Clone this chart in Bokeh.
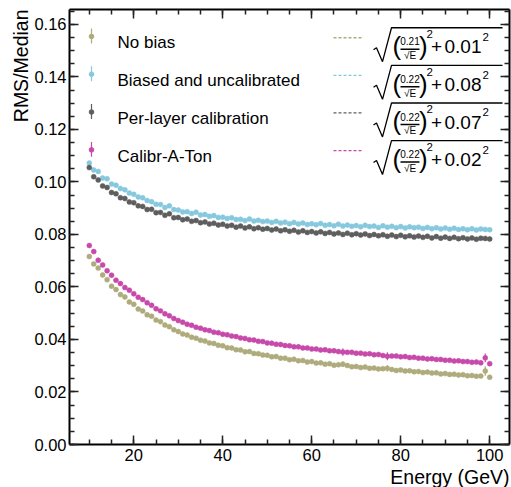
from bokeh.plotting import figure
from bokeh.models import (Range1d, LinearAxis, SingleIntervalTicker, Label, Title,
                          NumeralTickFormatter, CustomJSTickFormatter, ColumnDataSource)
from bokeh.embed import file_html
from bokeh.resources import INLINE

# ---------------- data ----------------
energy = list(range(10, 101))

no_bias = [
    0.0716, 0.0688, 0.0672, 0.0646, 0.0628, 0.0603, 0.0590, 0.0571, 0.0562, 0.0543,
    0.0534, 0.0516, 0.0509, 0.0494, 0.0489, 0.0474, 0.0468, 0.0455, 0.0449, 0.0437,
    0.0430, 0.0421, 0.0417, 0.0409, 0.0405, 0.0397, 0.0394, 0.0387, 0.0385, 0.0378,
    0.0376, 0.0369, 0.0368, 0.0361, 0.0360, 0.0353, 0.0354, 0.0347, 0.0346, 0.0341,
    0.0340, 0.0334, 0.0335, 0.0329, 0.0329, 0.0323, 0.0325, 0.0319, 0.0320, 0.0314,
    0.0316, 0.0310, 0.0311, 0.0306, 0.0308, 0.0302, 0.0304, 0.0306, 0.0301, 0.0296,
    0.0297, 0.0293, 0.0295, 0.0290, 0.0291, 0.0288, 0.0289, 0.0290, 0.0286, 0.0282,
    0.0284, 0.0280, 0.0281, 0.0277, 0.0278, 0.0274, 0.0276, 0.0272, 0.0273, 0.0269,
    0.0270, 0.0267, 0.0268, 0.0265, 0.0266, 0.0262, 0.0263, 0.0260, 0.0261, 0.0280,
    0.0256]

biased = [
    0.1072, 0.1046, 0.1040, 0.1015, 0.1012, 0.0992, 0.0988, 0.0975, 0.0970, 0.0958,
    0.0953, 0.0943, 0.0940, 0.0929, 0.0925, 0.0915, 0.0914, 0.0903, 0.0909, 0.0895,
    0.0893, 0.0886, 0.0887, 0.0880, 0.0885, 0.0874, 0.0876, 0.0869, 0.0872, 0.0865,
    0.0866, 0.0861, 0.0864, 0.0857, 0.0858, 0.0853, 0.0859, 0.0851, 0.0854, 0.0849,
    0.0851, 0.0846, 0.0850, 0.0844, 0.0847, 0.0841, 0.0846, 0.0840, 0.0844, 0.0838,
    0.0841, 0.0837, 0.0842, 0.0835, 0.0838, 0.0833, 0.0839, 0.0832, 0.0836, 0.0831,
    0.0834, 0.0829, 0.0835, 0.0830, 0.0832, 0.0827, 0.0833, 0.0828, 0.0831, 0.0826,
    0.0830, 0.0825, 0.0829, 0.0826, 0.0828, 0.0823, 0.0827, 0.0822, 0.0826, 0.0821,
    0.0825, 0.0820, 0.0824, 0.0819, 0.0822, 0.0818, 0.0822, 0.0817, 0.0821, 0.0819,
    0.0818]

per_layer = [
    0.1055, 0.1020, 0.1008, 0.0985, 0.0979, 0.0960, 0.0955, 0.0940, 0.0937, 0.0924,
    0.0921, 0.0909, 0.0907, 0.0895, 0.0896, 0.0883, 0.0884, 0.0873, 0.0879, 0.0864,
    0.0865, 0.0856, 0.0859, 0.0850, 0.0853, 0.0845, 0.0848, 0.0840, 0.0843, 0.0836,
    0.0839, 0.0832, 0.0835, 0.0828, 0.0832, 0.0825, 0.0829, 0.0822, 0.0826, 0.0820,
    0.0823, 0.0817, 0.0821, 0.0814, 0.0818, 0.0812, 0.0816, 0.0809, 0.0814, 0.0808,
    0.0811, 0.0806, 0.0810, 0.0804, 0.0808, 0.0802, 0.0806, 0.0800, 0.0805, 0.0799,
    0.0803, 0.0798, 0.0802, 0.0796, 0.0800, 0.0795, 0.0799, 0.0793, 0.0798, 0.0792,
    0.0797, 0.0791, 0.0795, 0.0790, 0.0794, 0.0789, 0.0793, 0.0787, 0.0792, 0.0786,
    0.0790, 0.0785, 0.0789, 0.0784, 0.0788, 0.0783, 0.0787, 0.0782, 0.0786, 0.0785,
    0.0783]

calibraton = [
    0.0758, 0.0735, 0.0702, 0.0684, 0.0662, 0.0645, 0.0626, 0.0613, 0.0598, 0.0588,
    0.0574, 0.0561, 0.0552, 0.0540, 0.0530, 0.0517, 0.0509, 0.0498, 0.0490, 0.0480,
    0.0472, 0.0466, 0.0458, 0.0454, 0.0447, 0.0443, 0.0437, 0.0434, 0.0428, 0.0426,
    0.0420, 0.0418, 0.0413, 0.0411, 0.0406, 0.0404, 0.0399, 0.0398, 0.0393, 0.0392,
    0.0387, 0.0386, 0.0382, 0.0381, 0.0377, 0.0376, 0.0372, 0.0372, 0.0368, 0.0368,
    0.0364, 0.0364, 0.0360, 0.0361, 0.0357, 0.0357, 0.0354, 0.0352, 0.0351, 0.0351,
    0.0348, 0.0348, 0.0345, 0.0346, 0.0342, 0.0343, 0.0339, 0.0336, 0.0337, 0.0337,
    0.0334, 0.0335, 0.0331, 0.0332, 0.0329, 0.0329, 0.0326, 0.0327, 0.0324, 0.0324,
    0.0321, 0.0321, 0.0318, 0.0319, 0.0316, 0.0316, 0.0313, 0.0314, 0.0311, 0.0330,
    0.0308]

series_names = ["No bias", "Biased and uncalibrated", "Per-layer calibration", "Calibr-A-Ton"]
series_values = [no_bias, biased, per_layer, calibraton]
series_colors = ["#aeab7d", "#86c8de", "#5e5e5e", "#c74aab"]

point_error = 0.0004
wide_errors = [{67: 0.0011, 77: 0.0012, 99: 0.0018}, {}, {}, {67: 0.0014, 77: 0.0015, 99: 0.0017}]

fit_stochastic = ["0.21", "0.22", "0.22", "0.22"]
fit_constant = ["0.01", "0.08", "0.07", "0.02"]

x_title = "Energy (GeV)"
y_title = "RMS/Median"
x_ticks_interval = 20
y_ticks_interval = 0.02

# ---------------- layout ----------------
W, H = 511, 487
FL, FR, FT, FB = 69, 509, 9, 445
X0, X1 = 5.55, 104.45
Y0, Y1 = 0.0, 0.1657
FONT = "Liberation Sans"


def dx(px):
    return X0 + (px - FL) * (X1 - X0) / (FR - FL)


def dy(py):
    return Y1 - (py - FT) * (Y1 - Y0) / (FB - FT)


def sx(px):
    return px - FL


def sy(py):
    return FB - py


p = figure(width=W, height=H, x_range=Range1d(X0, X1), y_range=Range1d(Y0, Y1),
           output_backend="svg", toolbar_location=None, title_location=None,
           min_border_left=FL, min_border_right=W - FR, min_border_top=FT,
           min_border_bottom=H - FB)
p.xgrid.visible = False
p.ygrid.visible = False
p.outline_line_color = None
p.background_fill_color = "white"
p.border_fill_color = "white"


def style_axis(ax):
    ax.axis_line_width = 2
    ax.axis_line_color = "black"
    ax.major_tick_in = 9
    ax.major_tick_out = 0
    ax.minor_tick_in = 5
    ax.minor_tick_out = 0
    ax.major_tick_line_width = 1.5
    ax.minor_tick_line_width = 1.5
    ax.major_tick_line_color = "#222222"
    ax.minor_tick_line_color = "#222222"
    ax.major_label_text_font = FONT
    ax.major_label_text_font_size = "16.5px"
    ax.major_label_text_color = "black"


xa = p.xaxis[0]
ya = p.yaxis[0]
xa.ticker = SingleIntervalTicker(interval=x_ticks_interval, num_minor_ticks=4)
ya.ticker = SingleIntervalTicker(interval=y_ticks_interval, num_minor_ticks=4)
ya.formatter = NumeralTickFormatter(format="0.00")
style_axis(xa)
style_axis(ya)
xa.major_label_standoff = 4
ya.major_label_standoff = 3

# axis titles as side-panel titles so that they can be end-aligned
p.add_layout(Title(text=x_title, align="right", text_font=FONT, text_font_size="19.5px",
                   text_font_style="normal", text_color="black", standoff=0, offset=0),
             "below")
p.add_layout(Title(text=y_title, align="right", text_font=FONT, text_font_size="19.5px",
                   text_font_style="normal", text_color="black", standoff=0, offset=0),
             "left")

top = LinearAxis(ticker=SingleIntervalTicker(interval=x_ticks_interval, num_minor_ticks=4),
                 formatter=CustomJSTickFormatter(code="return ''"))
right = LinearAxis(ticker=SingleIntervalTicker(interval=y_ticks_interval, num_minor_ticks=4),
                   formatter=CustomJSTickFormatter(code="return ''"))
for ax in (top, right):
    style_axis(ax)
    ax.major_label_standoff = 0
    ax.major_label_text_font_size = "1px"
p.add_layout(top, "above")
p.add_layout(right, "right")

# ---------------- data points ----------------
for vals, col, werr in zip(series_values, series_colors, wide_errors):
    errs = [werr.get(e, point_error) for e in energy]
    src = ColumnDataSource(dict(x=energy, y=vals,
                                lo=[v - e for v, e in zip(vals, errs)],
                                hi=[v + e for v, e in zip(vals, errs)]))
    p.segment(x0="x", y0="lo", x1="x", y1="hi", source=src, line_color=col, line_width=1.2)
    p.scatter(x="x", y="y", source=src, marker="circle", size=5,
              fill_color=col, line_color=col, line_width=0.5)

# ---------------- left legend ----------------
for i, (name, col) in enumerate(zip(series_names, series_colors)):
    ty = 43 + 37.9 * i
    my = ty - 7
    p.segment(x0=[dx(91)], y0=[dy(my + 7)], x1=[dx(91)], y1=[dy(my - 8)],
              line_color=col, line_width=1.2)
    p.scatter(x=[dx(91)], y=[dy(my)], marker="circle", size=4.6,
              fill_color=col, line_color=col)
    p.add_layout(Label(x=sx(117), y=sy(ty), x_units="screen", y_units="screen",
                       text=name, text_font=FONT, text_font_size="17px",
                       text_baseline="middle", text_align="left", text_color="black"))


def lab(txt, px, py, size, align="left"):
    p.add_layout(Label(x=sx(px), y=sy(py), x_units="screen", y_units="screen",
                       text=txt, text_font=FONT, text_font_size=size,
                       text_baseline="middle", text_align=align, text_color="black"))


# ---------------- right legend (fit formulas) ----------------
for i, (col, a, b) in enumerate(zip(series_colors, fit_stochastic, fit_constant)):
    y0 = 27.3 + 37.7 * i
    # dashed sample line
    p.line(x=[dx(333), dx(361)], y=[dy(y0 + 10), dy(y0 + 10)], line_color=col,
           line_width=1.3, line_dash="3 2")
    # radical sign and overline
    p.line(x=[dx(373), dx(376), dx(382), dx(391), dx(502)],
           y=[dy(y0 + 22), dy(y0 + 20), dy(y0 + 34), dy(y0), dy(y0)],
           line_color="black", line_width=1.3)
    # fraction bar
    p.line(x=[dx(400), dx(419)], y=[dy(y0 + 21.5), dy(y0 + 21.5)],
           line_color="black", line_width=1.6)
    lab("(", 392, y0 + 19, "26px")
    lab(")", 418.5, y0 + 19, "26px")
    lab(a, 409.5, y0 + 14.5, "10px", "center")
    lab("\u221aE", 409.5, y0 + 28.5, "10px", "center")
    lab("2", 426, y0 + 7, "11.5px")
    lab("+", 436, y0 + 20, "19px", "center")
    lab(b, 444, y0 + 20, "19px")
    lab("2", 482, y0 + 10, "11.5px")

open("out.html", "w").write(file_html(p, INLINE))
